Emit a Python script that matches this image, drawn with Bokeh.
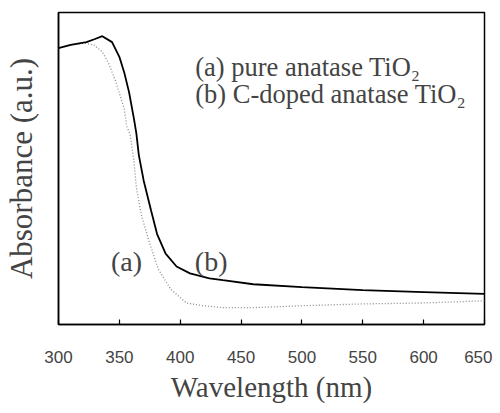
from bokeh.plotting import figure
from bokeh.models import Range1d, FixedTicker, Label
from bokeh.embed import file_html
from bokeh.resources import INLINE

# Curve (b): C-doped anatase TiO2 (solid black)
wl_b = [300, 310, 323, 330, 336, 344, 350, 354, 358, 362, 364, 366, 370, 376, 381,
        388, 397, 408, 424, 435, 460, 500, 550, 600, 650]
abs_b = [0.886, 0.896, 0.905, 0.915, 0.924, 0.905, 0.858, 0.808, 0.744, 0.659, 0.612,
         0.543, 0.461, 0.366, 0.290, 0.227, 0.186, 0.164, 0.148, 0.142, 0.129, 0.120,
         0.110, 0.104, 0.098]

# Curve (a): pure anatase TiO2 (dotted grey)
wl_a = [300, 310, 321, 329, 336, 341, 347, 351, 354, 356, 359, 362, 364, 368, 374,
        382, 392, 405, 419, 435, 460, 500, 550, 600, 650]
abs_a = [0.886, 0.896, 0.902, 0.896, 0.874, 0.839, 0.779, 0.729, 0.691, 0.637, 0.606,
         0.524, 0.438, 0.353, 0.271, 0.177, 0.114, 0.069, 0.060, 0.054, 0.054, 0.060,
         0.066, 0.069, 0.076]

x_ticks = [300, 350, 400, 450, 500, 550, 600, 650]
legend_lines = ["(a) pure anatase TiO\u2082", "(b) C-doped anatase TiO\u2082"]

SERIF = "Liberation Serif"

p = figure(width=492, height=405, output_backend="svg", toolbar_location=None,
           x_range=Range1d(300, 650), y_range=Range1d(0, 1),
           min_border_left=54, min_border_right=8, min_border_top=12, min_border_bottom=76)
p.background_fill_color = "white"
p.border_fill_color = "white"
p.outline_line_color = "black"
p.outline_line_width = 1.5
p.xgrid.visible = False
p.ygrid.visible = False

p.line(wl_a, abs_a, line_color="#8a8a8a", line_width=1.3, line_dash="1 2")
p.line(wl_b, abs_b, line_color="black", line_width=1.8)

xa = p.xaxis[0]
xa.ticker = FixedTicker(ticks=x_ticks)
xa.major_tick_in = 5
xa.major_tick_out = 0
xa.minor_tick_line_color = None
xa.axis_line_width = 1.5
xa.major_tick_line_width = 1.2
xa.major_label_text_font = "Liberation Sans"
xa.major_label_text_font_size = "17px"
xa.major_label_standoff = 26
xa.axis_label = "Wavelength (nm)"
xa.axis_label_text_font = SERIF
xa.axis_label_text_font_size = "29px"
xa.axis_label_text_font_style = "normal"
xa.axis_label_standoff = 5

ya = p.yaxis[0]
ya.ticker = FixedTicker(ticks=[])
ya.minor_tick_line_color = None
ya.major_tick_line_color = None
ya.axis_line_width = 1.5
ya.axis_label = "Absorbance (a.u.)"
ya.axis_label_text_font = SERIF
ya.axis_label_text_font_size = "31px"
ya.axis_label_text_font_style = "normal"
ya.axis_label_standoff = 20

for i, t in enumerate(legend_lines):
    p.add_layout(Label(x=412.3, y=[0.826, 0.738][i], text=t, text_font=SERIF,
                       text_font_size="26.5px", text_baseline="alphabetic", text_align="left"))

p.add_layout(Label(x=355.8, y=0.202, text="(a)", text_font=SERIF, text_font_size="28px",
                   text_baseline="alphabetic", text_align="center"))
p.add_layout(Label(x=425.4, y=0.202, text="(b)", text_font=SERIF, text_font_size="28px",
                   text_baseline="alphabetic", text_align="center"))

open("out.html", "w").write(file_html(p, INLINE))
